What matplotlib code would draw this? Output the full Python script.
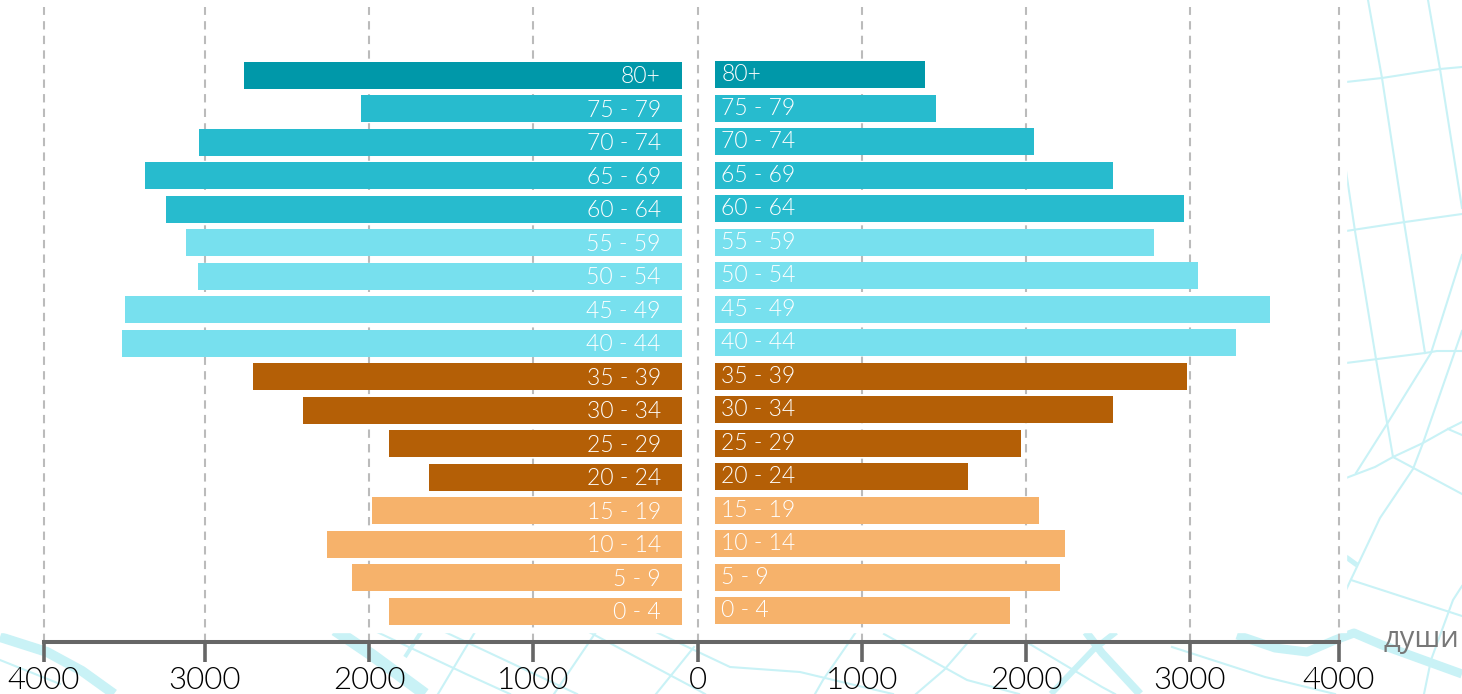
import numpy as np
import matplotlib
matplotlib.use('Agg')
import matplotlib.pyplot as plt
from matplotlib import font_manager

# population pyramid, values
ages = ['0 - 4', '5 - 9', '10 - 14', '15 - 19', '20 - 24', '25 - 29', '30 - 34', '35 - 39', '40 - 44',
        '45 - 49', '50 - 54', '55 - 59', '60 - 64', '65 - 69', '70 - 74', '75 - 79', '80+']
men = [1880, 2105, 2255, 1980, 1635, 1880, 2400, 2710, 3515, 3500, 3045, 3120, 3240, 3370, 3040, 2050, 2760]
women = [1900, 2205, 2240, 2080, 1645, 1970, 2530, 2980, 3310, 3535, 3055, 2780, 2965, 2530, 2050, 1450, 1385]
colors = ['#F6B26B'] * 4 + ['#B45F06'] * 4 + ['#77E0EE'] * 4 + ['#27BBCE'] * 4 + ['#0098A9']

tick_vals = [-4000, -3000, -2000, -1000, 0, 1000, 2000, 3000, 4000]
tick_labels = ['4000', '3000', '2000', '1000', '0', '1000', '2000', '3000', '4000']
# the axis in the picture is not quite even, so the scale goes through these pixel columns
tick_px = [44, 205, 369, 533, 698, 862, 1026, 1190, 1339]
bar_gap_left = -98
bar_gap_right = 104

# background map, pixel polylines (x, y from top)
rivers = [
    ([(0, 637), (47, 652), (82, 671), (114, 694)], 10),
    ([(335, 630), (372, 655), (425, 694)], 12),
    ([(421, 632), (405, 657)], 4),
    ([(1237, 635), (1275, 648), (1307, 652), (1335, 640), (1354, 633), (1382, 645), (1462, 674)], 9),
    ([(1086, 632), (1102, 653), (1140, 694)], 8),
    ([(1116, 632), (1093, 650), (1051, 694)], 6),
    ([(1346, 557), (1357, 565)], 5),
]
streets = [
    [(1368, 0), (1382, 78), (1404, 222), (1425, 353)],
    [(1428, 0), (1440, 69), (1462, 208)],
    [(1346, 82), (1382, 78), (1440, 69), (1462, 67)],
    [(1346, 171), (1355, 231), (1376, 359), (1393, 457)],
    [(1346, 231), (1405, 222), (1462, 214)],
    [(1346, 363), (1425, 353), (1437, 351), (1462, 351)],
    [(1462, 255), (1431, 353), (1387, 424), (1356, 473)],
    [(1462, 331), (1423, 443), (1413, 469), (1380, 518), (1346, 590)],
    [(1346, 478), (1375, 467), (1393, 457), (1423, 443), (1448, 429), (1462, 422)],
    [(1393, 457), (1462, 494)],
    [(1448, 429), (1462, 435)],
    [(1351, 580), (1462, 616)],
    [(1462, 586), (1453, 600), (1431, 660), (1424, 694)],
    [(445, 632), (577, 694)],
    [(377, 632), (466, 674), (510, 694)],
    [(589, 632), (698, 690), (705, 694)],
    [(656, 632), (730, 667), (800, 672), (846, 683), (893, 694)],
    [(475, 632), (438, 694)],
    [(596, 632), (554, 694)],
    [(694, 647), (656, 694)],
    [(0, 660), (60, 684)],
    [(884, 634), (967, 680), (1019, 694)],
    [(977, 632), (944, 670), (916, 694)],
    [(856, 632), (823, 680), (815, 694)],
    [(1028, 643), (1102, 687), (1115, 694)],
    [(1172, 647), (1265, 677), (1335, 694)],
]
map_color = '#C9F2F6'

# weight='light' ends up on Lato Hairline, so pick the Light file by hand
light_files = [f.fname for f in font_manager.fontManager.ttflist if f.fname.endswith('Lato-Light.ttf')]
if light_files:
    label_font = font_manager.FontProperties(fname=light_files[0])
else:
    label_font = font_manager.FontProperties(family='Lato')


def lato(size):
    fp = label_font.copy()
    fp.set_size(size)
    return fp


W, H = 1462, 694
fig = plt.figure(figsize=(W / 100, H / 100), dpi=100, facecolor='white')

# map goes behind everything, white block hides the part under the chart
bg = fig.add_axes([0, 0, 1, 1], zorder=0)
bg.set_xlim(0, W)
bg.set_ylim(H, 0)
bg.axis('off')
for pts, w in rivers:
    xs, ys = zip(*pts)
    bg.plot(xs, ys, color=map_color, lw=w * 0.72, solid_capstyle='butt', solid_joinstyle='round')
for pts in streets:
    xs, ys = zip(*pts)
    bg.plot(xs, ys, color=map_color, lw=1.5)
bg.fill([0, 1346, 1346, 0], [0, 0, 632, 632], color='white', zorder=3)

# main axes: x from first to last tick, bottom on the axis line
ax = fig.add_axes([44 / W, (H - 641.5) / H, (1339 - 44) / W, (641.5 - 7) / H], zorder=1)
ax.patch.set_alpha(0)


def to_px(v):
    return np.interp(v, tick_vals, tick_px)


def from_px(p):
    return np.interp(p, tick_px, tick_vals)


ax.set_xscale('function', functions=(to_px, from_px))
ax.set_xlim(-4000, 4000)
ax.set_ylim(-0.9, 18.04)

y = np.arange(len(ages))
ax.barh(y, -(np.array(men) - 98), left=bar_gap_left, height=0.805, color=colors, zorder=2)
ax.barh(y + 0.02, np.array(women) - bar_gap_right, left=bar_gap_right, height=0.805, color=colors, zorder=2)

for i, age in enumerate(ages):
    ax.annotate(age, (bar_gap_left, i), xytext=(-15, -1), textcoords='offset points', ha='right', va='center',
                color='white', fontproperties=lato(16.5), zorder=3)
    ax.annotate(age, (bar_gap_right, i + 0.02), xytext=(4.5, 0), textcoords='offset points', ha='left', va='center',
                color='white', fontproperties=lato(16.5), zorder=3)

ax.set_xticks(tick_vals)
ax.set_xticklabels(tick_labels, fontproperties=lato(22.5), color='black')
ax.set_yticks([])
ax.minorticks_off()
ax.tick_params(axis='x', length=14.4, width=2.6, color='#666666', pad=3)
ax.set_axisbelow(True)
ax.xaxis.grid(True, color='#BBBBBB', lw=1.5, dashes=(4, 3))
for line in ax.get_xgridlines():
    line.set_clip_on(False)
for s in ['top', 'left', 'right']:
    ax.spines[s].set_visible(False)
ax.spines['bottom'].set_color('#666666')
ax.spines['bottom'].set_linewidth(2.9)

fig.text(1384 / W, (H - 640) / H, 'души', family=['Open Sans', 'DejaVu Sans'], fontsize=21, color='#777777',
         ha='left', va='center', zorder=2)

fig.savefig('out.png', dpi=100)
